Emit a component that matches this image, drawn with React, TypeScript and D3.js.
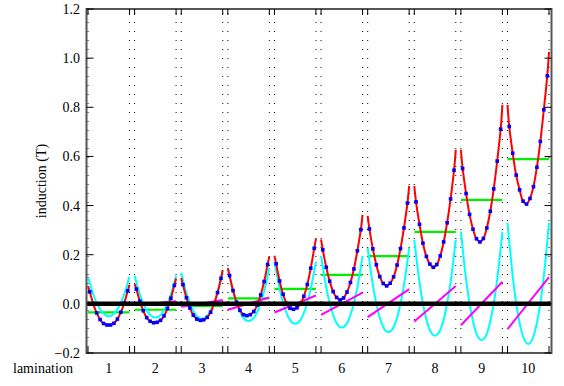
import React from 'react';
import * as d3 from 'd3';

// lamination numbers along the bottom
const laminations = [1, 2, 3, 4, 5, 6, 7, 8, 9, 10];
const yTicks = [-0.2, 0, 0.2, 0.4, 0.6, 0.8, 1.0, 1.2];

// mean induction per lamination (green)
const meanInduction = [-0.035, -0.024, -0.008, 0.022, 0.061, 0.118, 0.194, 0.293, 0.423, 0.589];

// linear part, value at left and right face (magenta)
const linearStart = [-0.002, -0.005, -0.012, -0.024, -0.035, -0.045, -0.054, -0.072, -0.087, -0.103];
const linearEnd = [0.003, 0.011, 0.016, 0.026, 0.034, 0.046, 0.06, 0.073, 0.09, 0.109];

// eddy part across each lamination, 9 samples (cyan)
const eddyProfile = [
  [0.11, 0.04, -0.01, -0.04, -0.05, -0.04, -0.01, 0.04, 0.11],
  [0.114, 0.039, -0.014, -0.046, -0.056, -0.046, -0.014, 0.039, 0.114],
  [0.127, 0.044, -0.014, -0.05, -0.061, -0.05, -0.014, 0.044, 0.127],
  [0.147, 0.052, -0.016, -0.057, -0.07, -0.057, -0.016, 0.052, 0.147],
  [0.172, 0.061, -0.018, -0.066, -0.081, -0.066, -0.018, 0.061, 0.172],
  [0.195, 0.067, -0.023, -0.079, -0.096, -0.079, -0.023, 0.067, 0.195],
  [0.227, 0.077, -0.03, -0.094, -0.115, -0.094, -0.03, 0.077, 0.227],
  [0.26, 0.088, -0.033, -0.107, -0.13, -0.107, -0.033, 0.088, 0.26],
  [0.294, 0.1, -0.037, -0.121, -0.147, -0.121, -0.037, 0.1, 0.294],
  [0.33, 0.113, -0.04, -0.133, -0.163, -0.133, -0.04, 0.113, 0.33],
];

// total induction at the two faces (red)
const totalLeft = [0.073, 0.08, 0.105, 0.145, 0.196, 0.262, 0.358, 0.48, 0.627, 0.81];
const totalRight = [0.078, 0.103, 0.138, 0.193, 0.265, 0.362, 0.48, 0.627, 0.81, 1.025];

// computed points inside each lamination (blue squares)
const totalPoints = [
  [0.049, 0.001, -0.037, -0.064, -0.08, -0.086, -0.086, -0.079, -0.062, -0.034, 0.004, 0.053],
  [0.06, 0.011, -0.028, -0.056, -0.071, -0.077, -0.075, -0.067, -0.049, -0.019, 0.023, 0.075],
  [0.078, 0.025, -0.017, -0.046, -0.062, -0.067, -0.065, -0.055, -0.034, 0.0, 0.046, 0.104],
  [0.115, 0.054, 0.007, -0.026, -0.044, -0.048, -0.044, -0.031, -0.005, 0.036, 0.091, 0.16],
  [0.163, 0.093, 0.039, 0.002, -0.018, -0.022, -0.016, 0.0, 0.031, 0.079, 0.145, 0.226],
  [0.22, 0.149, 0.092, 0.05, 0.026, 0.016, 0.024, 0.048, 0.087, 0.142, 0.216, 0.302],
  [0.305, 0.224, 0.159, 0.111, 0.083, 0.073, 0.084, 0.11, 0.158, 0.225, 0.309, 0.41],
  [0.415, 0.324, 0.247, 0.193, 0.162, 0.149, 0.16, 0.195, 0.252, 0.33, 0.427, 0.544],
  [0.551, 0.449, 0.364, 0.304, 0.265, 0.252, 0.266, 0.309, 0.377, 0.468, 0.581, 0.711],
  [0.722, 0.613, 0.524, 0.464, 0.418, 0.406, 0.429, 0.477, 0.556, 0.661, 0.79, 0.928],
];

const W = 564;
const H = 386;
const lamWidth = 0.89;
const textStyle = { fontFamily: "'Liberation Serif', 'DejaVu Serif', serif", fontSize: '14px' };

export default function App() {
  const x = d3.scaleLinear().domain([0, 9 + lamWidth]).range([88, 549]);
  const y = d3.scaleLinear().domain([-0.2, 1.2]).range([353, 9]);
  const left = 86.5;
  const right = 551.5;
  const top = y(1.2);
  const bottom = y(-0.2);

  const redLine = d3.line<[number, number]>().x(d => x(d[0])).y(d => y(d[1])).curve(d3.curveCatmullRom.alpha(0.5));
  const cyanLine = d3.line<[number, number]>().x(d => x(d[0])).y(d => y(d[1])).curve(d3.curveNatural);

  const fmt = d3.format('.1f');
  const boundaries = laminations.flatMap((_, i) => [i, i + lamWidth]);

  return (
    <svg width={W} height={H} style={{ position: 'absolute', left: 0, top: 0, background: '#fff' }}>
      {/* dotted lamination faces */}
      {boundaries.map((b, i) => (
        <line key={'d' + i} x1={x(b)} x2={x(b)} y1={top + 4} y2={bottom}
          stroke="#000" strokeWidth={1} strokeDasharray="1 8" />
      ))}

      {laminations.map((lam, i) => {
        const n = totalPoints[i].length;
        const markers: [number, number][] = totalPoints[i].map((v, k) => [i + lamWidth * (k + 0.5) / n, v]);
        const red: [number, number][] = [[i, totalLeft[i]], ...markers, [i + lamWidth, totalRight[i]]];
        const m = eddyProfile[i].length - 1;
        const cyan: [number, number][] = eddyProfile[i].map((v, k) => [i + lamWidth * k / m, v]);
        return (
          <g key={lam}>
            <line x1={x(i)} x2={x(i + lamWidth)} y1={y(meanInduction[i])} y2={y(meanInduction[i])}
              stroke="#00ee00" strokeWidth={2.2} />
            <path d={cyanLine(cyan) ?? ''} fill="none" stroke="#00ffff" strokeWidth={2} />
            <line x1={x(i)} x2={x(i + lamWidth)} y1={y(linearStart[i])} y2={y(linearEnd[i])}
              stroke="#ff00ff" strokeWidth={2} />
            <path d={redLine(red) ?? ''} fill="none" stroke="#ff0000" strokeWidth={2} />
            {markers.map((p, k) => (
              <rect key={k} x={x(p[0]) - 1.8} y={y(p[1]) - 1.8} width={3.6} height={3.6} fill="#0000ff" />
            ))}
          </g>
        );
      })}

      {/* zero line */}
      <line x1={left} x2={right} y1={y(0)} y2={y(0)} stroke="#000" strokeWidth={4.5} />

      {/* frame */}
      <rect x={left} y={top} width={right - left} height={bottom - top} fill="none" stroke="#555" strokeWidth={2} />

      {/* y ticks */}
      {yTicks.map(t => (
        <g key={'y' + t}>
          <line x1={left} x2={left + 7} y1={y(t)} y2={y(t)} stroke="#000" strokeWidth={1} />
          <line x1={right - 7} x2={right} y1={y(t)} y2={y(t)} stroke="#000" strokeWidth={1} />
          <text x={80} y={y(t) + 5} textAnchor="end" style={textStyle} fill="#000">{fmt(t)}</text>
        </g>
      ))}

      {/* x ticks at lamination faces */}
      {boundaries.map((b, i) => (
        <g key={'x' + i}>
          <line x1={x(b)} x2={x(b)} y1={bottom} y2={bottom - 6} stroke="#000" strokeWidth={1} />
          <line x1={x(b)} x2={x(b)} y1={top} y2={top + 6} stroke="#000" strokeWidth={1} />
        </g>
      ))}

      {laminations.map((lam, i) => (
        <text key={'l' + lam} x={x(i + lamWidth / 2)} y={373} textAnchor="middle" style={textStyle} fill="#000">{lam}</text>
      ))}
      <text x={13} y={373} style={textStyle} fill="#000">lamination</text>
      <text transform={`translate(46,${(top + bottom) / 2}) rotate(-90)`} textAnchor="middle" style={textStyle} fill="#000">induction (T)</text>
    </svg>
  );
}
